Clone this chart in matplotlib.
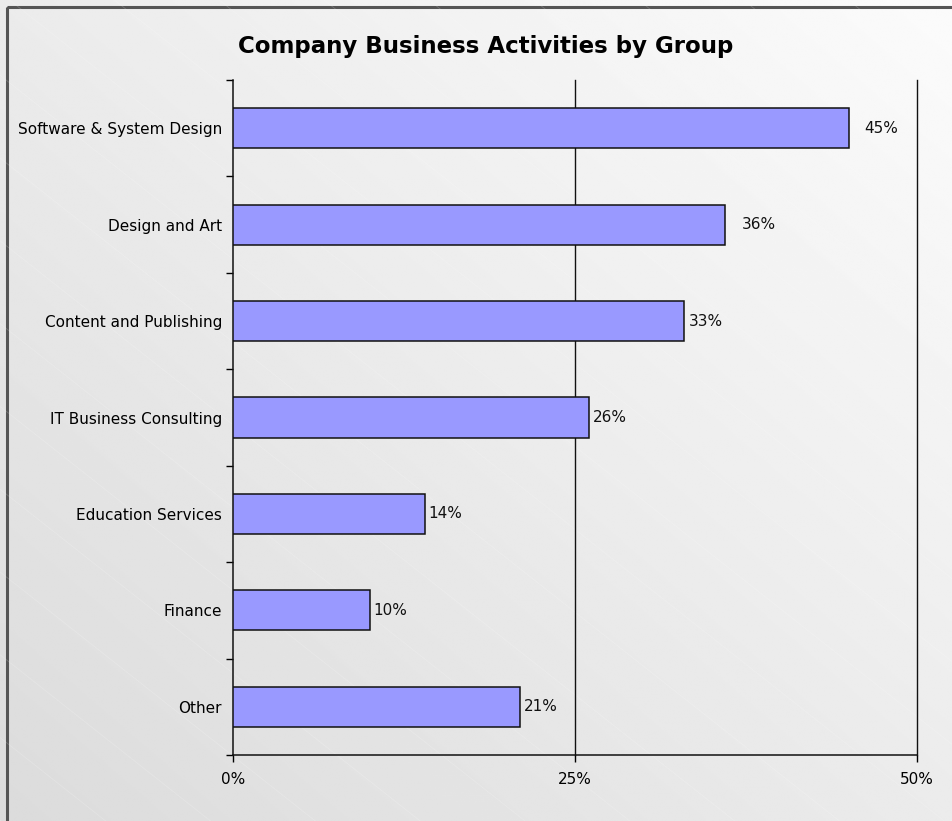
import matplotlib.pyplot as plt
import numpy as np
from matplotlib.patches import Rectangle

categories = ['Software & System Design', 'Design and Art', 'Content and Publishing',
              'IT Business Consulting', 'Education Services', 'Finance', 'Other']
values = [45, 36, 33, 26, 14, 10, 21]
label_pad = [16, 16, 4, 4, 4, 4, 4]   # px gap between bar end and its label
x_ticks = [0, 25, 50]

plt.rcParams['font.family'] = ['DejaVu Sans']

fig = plt.figure(figsize=(9.53, 8.21), dpi=100)

# grey diagonal gradient behind everything
bg = fig.add_axes([0, 0, 1, 1], zorder=-10)
u = np.linspace(0, 1, 400)
v = np.linspace(0, 1, 400)
U, V = np.meshgrid(u, v)
t = ((1 - U) + V) / 2
shade = 0.985 - 0.125 * t
bg.imshow(shade, cmap='gray', vmin=0, vmax=1, aspect='auto',
          extent=[0, 1, 1, 0], interpolation='bilinear')
# faint diagonal stripes
for off in np.arange(-1.2, 1.2, 0.11):
    bg.plot([off, off + 1.2], [0, 1.1], color='white', lw=0.6, alpha=0.18)
bg.set_xlim(0, 1)
bg.set_ylim(1, 0)
bg.axis('off')
# frame runs off the right and bottom edges
bg.add_patch(Rectangle((7 / 953, 7 / 821), 1.0, 1.0, fill=False,
                       edgecolor='#555555', lw=2.2, clip_on=True))

ax = fig.add_axes([233 / 953, 1 - 755 / 821, (917 - 233) / 953, (755 - 80) / 821])
ax.patch.set_alpha(0)

y = np.arange(len(categories))
ax.barh(y, values, height=0.415, color='#9999FF', edgecolor='#111111', lw=1.1, zorder=3)

for yi, val, pad in zip(y, values, label_pad):
    ax.annotate(f'{val}%', (val, yi), xytext=(pad, 0), textcoords='offset pixels',
                va='center', ha='left', fontsize=11, color='#111111')

ax.set_xlim(0, 50)
ax.set_ylim(len(categories) - 0.5, -0.5)
ax.set_xticks(x_ticks)
ax.set_xticklabels([f'{x}%' for x in x_ticks], fontsize=11)
ax.set_yticks(y)
ax.set_yticklabels(categories, fontsize=11)
ax.set_yticks(np.arange(len(categories) + 1) - 0.5, minor=True)
ax.tick_params(axis='y', which='major', length=0, pad=8)
ax.tick_params(axis='y', which='minor', length=5, direction='out', width=1)
ax.tick_params(axis='x', length=5, direction='out', width=1, pad=7)

for gx in x_ticks[1:]:
    ax.axvline(gx, color='#111111', lw=1, zorder=1, clip_on=False)

for side in ['top', 'right']:
    ax.spines[side].set_visible(False)
for side in ['left', 'bottom']:
    ax.spines[side].set_color('#111111')
    ax.spines[side].set_linewidth(1.1)

fig.text(486 / 953, 1 - 46 / 821, 'Company Business Activities by Group',
         ha='center', va='center', fontsize=16.5, fontweight='bold')

fig.savefig('out.png', dpi=100)
